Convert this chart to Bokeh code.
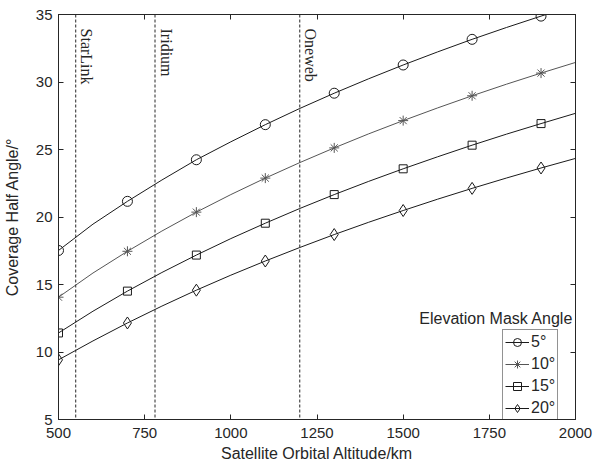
import math
from bokeh.plotting import figure
from bokeh.models import Range1d, LinearAxis, Legend, LegendItem, Span, Label, FixedTicker
from bokeh.core.properties import value
from bokeh.embed import file_html
from bokeh.resources import INLINE

# ---- data ----
altitude_km = [500, 600, 700, 800, 900, 1000, 1100, 1200, 1300, 1400, 1500, 1600, 1700, 1800, 1900, 2000]
half_5 = [17.52, 19.47, 21.16, 22.74, 24.24, 25.57, 26.84, 28.04, 29.17, 30.24, 31.26, 32.23, 33.16, 34.04, 34.88, 35.70]
half_10 = [14.06, 15.85, 17.46, 18.96, 20.36, 21.66, 22.88, 24.03, 25.12, 26.16, 27.14, 28.08, 28.98, 29.84, 30.66, 31.45]
half_15 = [11.41, 13.02, 14.51, 15.89, 17.18, 18.40, 19.54, 20.63, 21.66, 22.64, 23.57, 24.46, 25.32, 26.14, 26.92, 27.68]
half_20 = [9.42, 10.82, 12.15, 13.40, 14.58, 15.69, 16.74, 17.74, 18.70, 19.61, 20.48, 21.32, 22.12, 22.89, 23.63, 24.34]
series_labels = ["5°", "10°", "15°", "20°"]
constellation_alt = [550, 780, 1200]
constellation_names = ["StarLink", "Iridium", "Oneweb"]
x_ticks = [500, 750, 1000, 1250, 1500, 1750, 2000]
y_ticks = [5, 10, 15, 20, 25, 30, 35]

AX = "#262626"
SANS = "Liberation Sans"
SERIF = "Liberation Serif"

p = figure(width=602, height=469, output_backend="svg", toolbar_location=None,
           x_range=Range1d(500, 2000), y_range=Range1d(5, 35),
           min_border_left=58, min_border_right=27, min_border_top=14, min_border_bottom=50)
p.grid.visible = False
p.outline_line_color = AX
p.outline_line_width = 1
p.background_fill_color = "white"
p.border_fill_color = "white"

def style_axis(ax, ticks, show_labels=True):
    ax.ticker = FixedTicker(ticks=ticks)
    ax.axis_line_color = AX
    ax.major_tick_line_color = AX
    ax.major_tick_in = 5
    ax.major_tick_out = 0
    ax.minor_tick_line_color = None
    ax.major_label_text_font = SANS
    ax.major_label_text_color = AX
    ax.major_label_text_font_size = "15px"
    ax.axis_label_text_font = SANS
    ax.axis_label_text_font_size = "16px"
    ax.axis_label_text_font_style = "normal"
    ax.axis_label_text_color = AX
    if not show_labels:
        ax.major_label_overrides = {t: "" for t in ticks}
        ax.major_label_standoff = 0

style_axis(p.xaxis[0], x_ticks)
style_axis(p.yaxis[0], y_ticks)
p.xaxis[0].axis_label = "Satellite Orbital Altitude/km"
p.yaxis[0].axis_label = "Coverage Half Angle/°"
p.xaxis[0].major_label_standoff = 8
p.xaxis[0].axis_label_standoff = 4
p.yaxis[0].major_label_standoff = 6
p.yaxis[0].axis_label_standoff = 12

top = LinearAxis()
style_axis(top, x_ticks, show_labels=False)
p.add_layout(top, "above")
right = LinearAxis()
style_axis(right, y_ticks, show_labels=False)
p.add_layout(right, "right")

# constellation reference lines
for alt, name in zip(constellation_alt, constellation_names):
    p.add_layout(Span(location=alt, dimension="height", line_color=AX,
                      line_width=1, line_dash="3 2"))
p.text(x=constellation_alt, y=[33.96] * 3, text=constellation_names, angle=-math.pi / 2,
       text_font=value(SERIF), text_font_size="16px", text_color=AX,
       text_align="left", text_baseline="alphabetic", x_offset=11)

series = [half_5, half_10, half_15, half_20]
markers = ["circle", "asterisk", "square", "diamond"]
sizes = [10, 10, 8, 12]
colors = ["#1a1a1a", "#555555", "#1a1a1a", "#1a1a1a"]
items = []
for vals, lab, mk, sz, col in zip(series, series_labels, markers, sizes, colors):
    l = p.line(altitude_km, vals, line_color=col, line_width=1)
    s = p.scatter(altitude_km[0:15:2], vals[0:15:2], marker=mk, size=sz,
                  line_color=col, fill_color=None, line_width=1)
    items.append(LegendItem(label=lab, renderers=[l, s]))

legend = Legend(items=items, location=(444, -2), margin=0,
                padding=2, spacing=2, glyph_width=24, glyph_height=20,
                label_height=20, label_standoff=2,
                label_text_font=SANS, label_text_font_size="16px", label_text_color=AX,
                border_line_color=AX, border_line_width=1,
                background_fill_color="white", background_fill_alpha=1)
p.add_layout(legend, "center")

p.add_layout(Label(x=1770, y=12.48, text="Elevation Mask Angle", text_font=SANS,
                   text_font_size="16px", text_color=AX, text_align="center",
                   text_baseline="middle"))

open("out.html", "w").write(file_html(p, INLINE))
